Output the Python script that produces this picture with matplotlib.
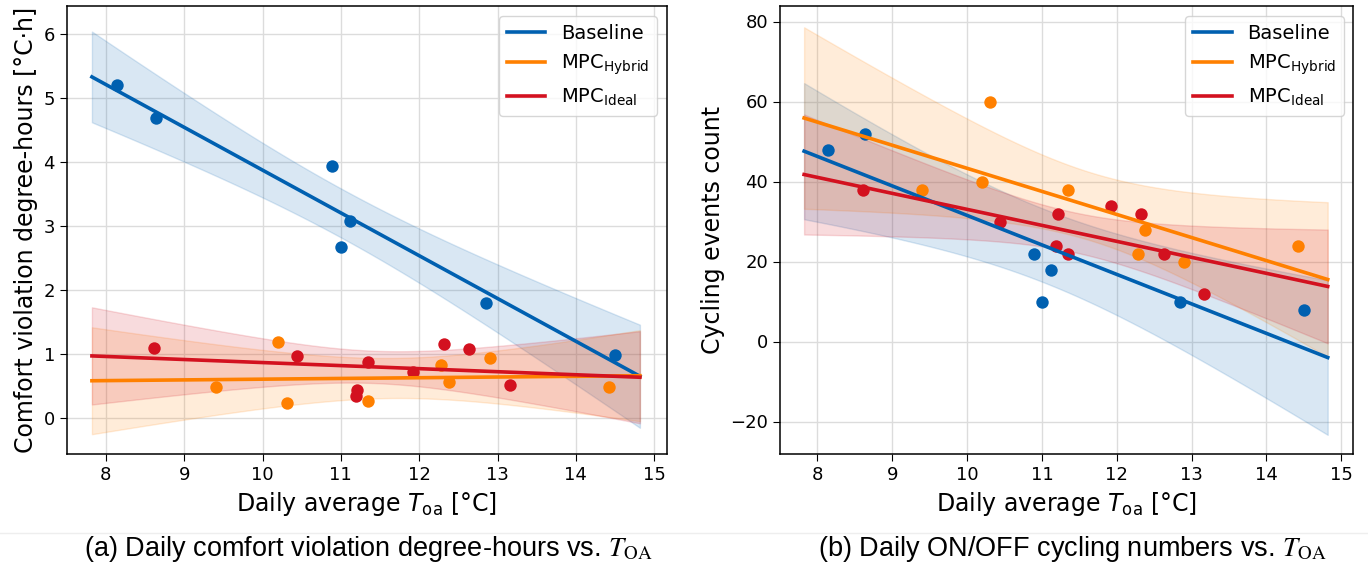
import numpy as np
import matplotlib
matplotlib.use("Agg")
import matplotlib.pyplot as plt
from matplotlib.lines import Line2D

# daily average outdoor temperature per controller (deg C)
t_base = [8.14, 8.64, 10.89, 11.12, 11.0, 12.85, 14.5]
t_hybrid = [9.40, 10.20, 10.31, 11.35, 12.28, 12.38, 12.90, 14.42]
t_ideal = [8.61, 10.44, 11.21, 11.19, 11.35, 11.92, 12.32, 12.63, 13.16]

# (a) comfort violation degree-hours
dh_base = [5.20, 4.68, 3.93, 3.07, 2.67, 1.79, 0.98]
dh_hybrid = [0.48, 1.19, 0.23, 0.27, 0.83, 0.56, 0.94, 0.48]
dh_ideal = [1.09, 0.96, 0.44, 0.34, 0.88, 0.71, 1.15, 1.08, 0.51]

# (b) ON/OFF cycling events
cyc_base = [48, 52, 22, 18, 10, 10, 8]
cyc_hybrid = [38, 40, 60, 38, 22, 28, 20, 24]
cyc_ideal = [38, 30, 32, 24, 22, 34, 32, 22, 12]

labels = ["Baseline", r"MPC$_{\mathrm{Hybrid}}$", r"MPC$_{\mathrm{Ideal}}$"]
colors = ["#0060b0", "#ff8000", "#d3111f"]

# two-sided 95% t quantiles by degrees of freedom
T975 = {5: 2.5706, 6: 2.4469, 7: 2.3646}


def regline(ax, x, y, grid, color, label):
    x = np.asarray(x, float)
    y = np.asarray(y, float)
    n = len(x)
    b, a = np.polyfit(x, y, 1)
    yfit = a + b * grid
    resid = y - (a + b * x)
    s = np.sqrt(np.sum(resid ** 2) / (n - 2))
    sxx = np.sum((x - x.mean()) ** 2)
    half = T975[n - 2] * s * np.sqrt(1 / n + (grid - x.mean()) ** 2 / sxx)
    ax.scatter(x, y, s=80, color=color, linewidths=0, zorder=3)
    ax.plot(grid, yfit, color=color, lw=2.6, label=label, zorder=4)
    ax.fill_between(grid, yfit - half, yfit + half, color=color, alpha=0.15, lw=1)


all_t = np.concatenate([t_base, t_hybrid, t_ideal])
lo, hi = all_t.min(), all_t.max()
pad = 0.05 * (hi - lo)
grid = np.linspace(lo - pad, hi + pad, 100)

fig = plt.figure(figsize=(13.68, 5.64), dpi=100)
ax1 = fig.add_axes([66.7 / 1368, 1 - 454.3 / 564, 600 / 1368, 448 / 564])
ax2 = fig.add_axes([780 / 1368, 1 - 454.3 / 564, 573.3 / 1368, 448 / 564])

for ax, series in [(ax1, [dh_base, dh_hybrid, dh_ideal]),
                   (ax2, [cyc_base, cyc_hybrid, cyc_ideal])]:
    for t, y, c, lab in zip([t_base, t_hybrid, t_ideal], series, colors, labels):
        regline(ax, t, y, grid, c, lab)
    ax.set_xlim(7.5, 15.16)
    ax.set_xticks(range(8, 16))
    ax.grid(True, color="#dcdcdc", lw=1)
    ax.set_axisbelow(True)
    ax.tick_params(labelsize=13, length=5)
    for sp in ax.spines.values():
        sp.set_linewidth(1.1)
    ax.set_xlabel(r"Daily average $T_{\mathrm{oa}}$ [°C]", fontsize=17)
    ax.legend(loc="upper right", fontsize=14)

ax1.set_ylim(-0.57, 6.43)
ax1.set_ylabel("Comfort violation degree-hours [°C·h]", fontsize=17)
ax2.set_ylim(-28.2, 83.8)
ax2.set_yticks([-20, 0, 20, 40, 60, 80])
ax2.set_ylabel("Cycling events count", fontsize=17)

# faint seam between plots and captions
fig.add_artist(Line2D([0, 1], [1 - 533 / 564] * 2, color="#eeeeee", lw=1))

cap = dict(fontsize=19.5, family="Liberation Sans", math_fontfamily="stix",
           ha="center", va="center")
fig.text(368 / 1368, 1 - 549 / 564,
         r"(a) Daily comfort violation degree-hours vs. $T_{\mathrm{OA}}$", **cap)
fig.text(1072 / 1368, 1 - 549 / 564,
         r"(b) Daily ON/OFF cycling numbers vs. $T_{\mathrm{OA}}$", **cap)

fig.savefig("out.png", dpi=100)
